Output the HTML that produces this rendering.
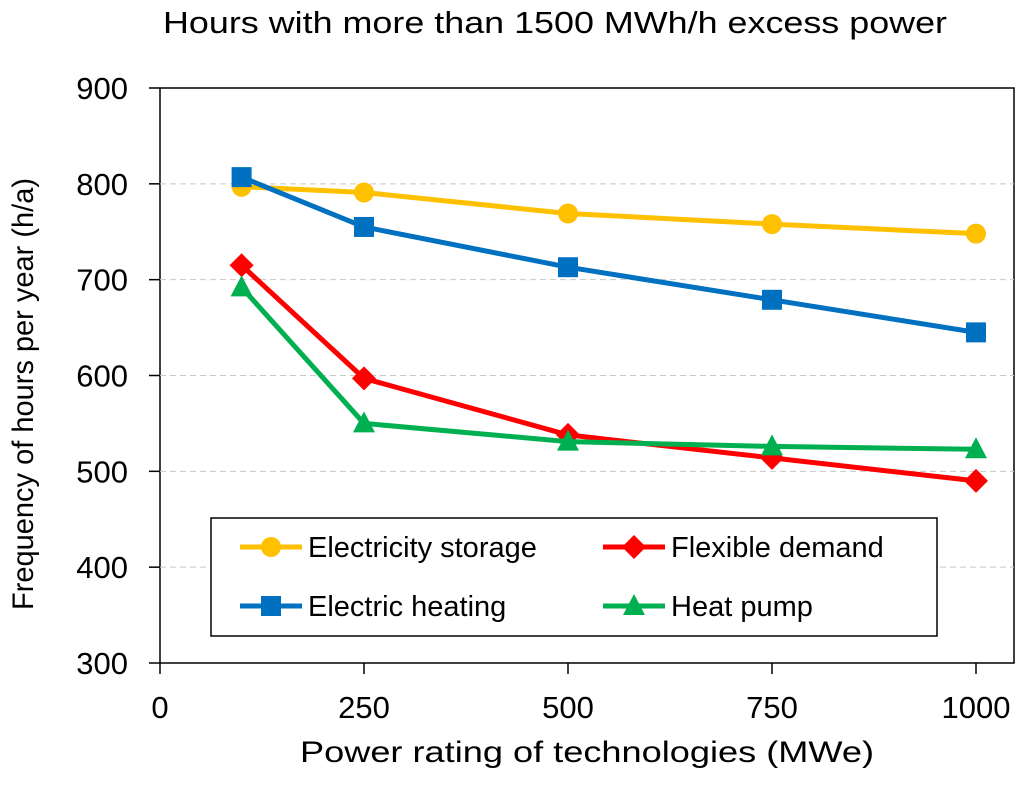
<!DOCTYPE html>
<html><head><meta charset="utf-8"><style>
body{margin:0;background:#fff;}
svg text{font-family:"Liberation Sans",Arial,sans-serif;fill:#000;}
</style></head><body>
<svg id="chart" width="1024" height="784" xmlns="http://www.w3.org/2000/svg">
<text x="163" y="33" font-size="31" textLength="784" lengthAdjust="spacingAndGlyphs">Hours with more than 1500 MWh/h excess power</text>
<rect x="160" y="88" width="854" height="575" fill="none" stroke="#000" stroke-width="1.5"/>
<g id="grid"></g><g id="axes"></g><g id="series"></g>
<text x="300" y="762" font-size="30" textLength="574" lengthAdjust="spacingAndGlyphs">Power rating of technologies (MWe)</text>
<text transform="translate(33,610) rotate(-90)" font-size="30" textLength="432" lengthAdjust="spacingAndGlyphs">Frequency of hours per year (h/a)</text>
<g>
<rect x="211" y="518" width="726" height="118" fill="#fff" stroke="#000" stroke-width="1.5"/>
</g>
<g id="legend"></g>
</svg>
<script>
const xValues=[100,250,500,750,1000];
const storage=[797,791,769,758,748];
const heating=[807,755,713,679,645];
const flexible=[715,597,538,514,490];
const heatpump=[692,550,531,526,523];
const xTicks=[0,250,500,750,1000];
const yTicks=[300,400,500,600,700,800,900];
const names=["Electricity storage","Electric heating","Flexible demand","Heat pump"];
const NS="http://www.w3.org/2000/svg";
function X(v){return 160+v*0.816;}
function Y(v){return 663-(v-300)*575/600;}
function mk(tag,attrs,parent){const e=document.createElementNS(NS,tag);for(const k in attrs)e.setAttribute(k,attrs[k]);parent.appendChild(e);return e;}
const grid=document.getElementById('grid'),axes=document.getElementById('axes'),ser=document.getElementById('series'),leg=document.getElementById('legend');
yTicks.forEach(t=>{
  if(t>300&&t<900){const g=mk('line',{x1:160,x2:1014,y1:Y(t),y2:Y(t),stroke:'#c8c8c8','stroke-dasharray':'6,4'},grid);
  
  }
  const tk=mk('line',{x1:149,x2:160,y1:Y(t),y2:Y(t),stroke:'#000','stroke-width':1.5},axes);
  
  
  const l=mk('text',{x:128,y:Y(t)+11,'font-size':31,'text-anchor':'end'},axes);l.textContent=t;
  
  
});
xTicks.forEach(t=>{
  const tk=mk('line',{x1:X(t),x2:X(t),y1:663,y2:674,stroke:'#000','stroke-width':1.5},axes);
  
  
  const l=mk('text',{x:X(t),y:718,'font-size':31,'text-anchor':'middle'},axes);l.textContent=t;
  
  
});
function marker(kind,cx,cy,col,parent){
  if(kind==='circle')return mk('circle',{cx:cx,cy:cy,r:10,fill:col},parent);
  if(kind==='square')return mk('rect',{x:cx-10,y:cy-10,width:20,height:20,fill:col},parent);
  if(kind==='diamond')return mk('polygon',{points:`${cx},${cy-12} ${cx+12},${cy} ${cx},${cy+12} ${cx-12},${cy}`,fill:col},parent);
  return mk('polygon',{points:`${cx},${cy-12} ${cx+11},${cy+9} ${cx-11},${cy+9}`,fill:col},parent);
}
const defs=[[storage,'#FFC000','circle','storage'],[heating,'#0070C0','square','heating'],[flexible,'#FF0000','diamond','flexible'],[heatpump,'#00B050','triangle','heatpump']];
defs.forEach((d,i)=>{
  const [vals,col,kind,key]=d;
  const pl=mk('polyline',{points:vals.map((v,j)=>X(xValues[j])+','+Y(v)).join(' '),fill:'none',stroke:col,'stroke-width':5,'stroke-linejoin':'round'},ser);
  
  
  vals.forEach((v,j)=>{const m=marker(kind,X(xValues[j]),Y(v),col,ser);
    
    });
  const lx=[240,603][Math.floor(i/2)], ly=[547,606][i%2];
  const g=mk('g',{},leg);
  
  
  mk('line',{x1:lx,x2:lx+62,y1:ly,y2:ly,stroke:col,'stroke-width':5},g);
  marker(kind,lx+31,ly,col,g);
  const t=mk('text',{x:lx+68,y:ly+10,'font-size':29},g);t.textContent=names[i];
});
</script>
</body></html>
